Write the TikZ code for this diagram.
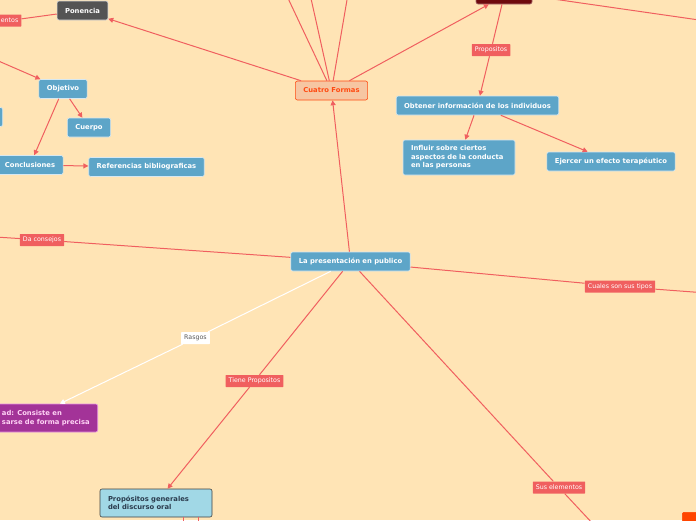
\documentclass[tikz,border=0pt]{standalone}
\usepackage{fontspec}
\setmainfont{DejaVu Sans}
\usetikzlibrary{positioning, arrows.meta}

\definecolor{paper}{HTML}{FFE4B5}
\definecolor{topic}{HTML}{5DA5C8}
\definecolor{link}{HTML}{F05F5F}
\definecolor{formfill}{HTML}{F6C6A2}
\definecolor{formred}{HTML}{FF4B12}
\definecolor{darktopic}{HTML}{6E0A0E}
\definecolor{claridadfill}{HTML}{A33398}
\definecolor{claridadline}{HTML}{E38FE0}
\definecolor{claridadtext}{HTML}{FFD3F5}
\definecolor{propfill}{HTML}{A1D8E6}
\definecolor{proptext}{HTML}{2B3C4E}
\definecolor{hotorange}{HTML}{FF4500}

\begin{document}
\begin{tikzpicture}[
    x=1pt, y=-1pt,
    box/.style={rectangle, rounded corners=2pt, draw=white!75!topic, fill=topic, text=white, line width=0.6pt,
                font=\fontsize{6.8}{8.6}\selectfont\bfseries, inner xsep=8pt, inner ysep=0pt, minimum height=19pt},
    tag/.style={rectangle, rounded corners=0.5pt, fill=link, text=white, font=\fontsize{6.3}{7}\selectfont,
                inner xsep=3pt, inner ysep=0pt, minimum height=12pt},
    arrow/.style={-{Triangle[length=5pt, width=5pt]}, line width=1pt, draw=link},
    line/.style={line width=1pt, draw=link},
]

    \useasboundingbox (0,0) rectangle (696,520);
    \clip (0,0) rectangle (696,520);
    \fill[paper] (0,0) rectangle (696,520);

%% NODES
    % central topic
    \node[box] (presentacion) at (350.5,261.5) {La presentación en publico};

    % Cuatro Formas
    \node[box, fill=formfill, draw=formred, text=formred] (cuatro_formas) at (331.5,90.5) {Cuatro Formas};
    \node[box, fill=darktopic, draw=darktopic!60!white, minimum width=56pt, minimum height=16pt] (top_box) at (504,-4) {};
    \node[box] (obtener) at (477.5,105.5) {Obtener información de los individuos};
    \node[box, align=left, text width=96pt, minimum height=35pt] (influir) at (459,157.5) {Influir sobre ciertos\\aspectos de la conducta\\en las personas};
    \node[box] (ejercer) at (611,161.5) {Ejercer un efecto terapéutico};

    % Ponencia
    \node[box, fill=black!67, draw=black!15] (ponencia) at (82.5,10.5) {Ponencia};
    \node[box] (objetivo) at (63,89) {Objetivo};
    \node[box] (cuerpo) at (89,127.5) {Cuerpo};
    \node[box] (conclusiones) at (30,165) {Conclusiones};
    \node[box] (referencias) at (146.5,167) {Referencias bibliograficas};
    \node[box, anchor=east, minimum width=30pt] (left_box) at (3,117) {};

    % Rasgos, Propositos, elementos
    \node[box, anchor=east, fill=claridadfill, draw=claridadline, text=claridadtext, align=left, minimum height=28pt] (claridad) at (98,418) {ad: Consiste en\\sarse de forma precisa};
    \node[box, fill=propfill, draw=black!75, text=proptext, align=left, text width=96pt, minimum height=28pt] (propositos_generales) at (156,503) {Propósitos generales\\del discurso oral};
    \node[box, anchor=north west, fill=hotorange, draw=hotorange, minimum width=40pt] (bottom_box) at (682,512) {};

    % connector labels
    \node[tag, anchor=east] (lbl_elementos) at (21.5,20.5) {entos};
    \node[tag] (lbl_propositos) at (491,50) {Propositos};
    \node[tag] (lbl_consejos) at (42,240) {Da consejos};
    \node[tag] (lbl_tipos) at (620,286.5) {Cuales son sus tipos};
    \node[tag, fill=white, text=black!65] (lbl_rasgos) at (195.5,338) {Rasgos};
    \node[tag] (lbl_tiene) at (254.5,381) {Tiene Propositos};
    \node[tag] (lbl_sus) at (559,487.5) {Sus elementos};

    % free ends
    \coordinate (off_top_a) at (286,-6);
    \coordinate (off_top_b) at (310,-6);
    \coordinate (off_top_c) at (348,-6);
    \coordinate (off_right_top) at (720,23);
    \coordinate (off_left_top) at (-20,53);
    \coordinate (off_consejos) at (-20,236);
    \coordinate (off_tipos) at (720,294);
    \coordinate (off_sus) at (608,540);
    \coordinate (off_prop_a) at (183,530);
    \coordinate (off_prop_b) at (198,530);

%% CONNECTIONS
    % presentacion -> Cuatro Formas
    \draw[arrow] (presentacion) -- (cuatro_formas);

    % Cuatro Formas -> its branches
    \draw[arrow] (cuatro_formas) -- (ponencia);
    \draw[arrow] (cuatro_formas) -- (top_box);
    \draw[line] (cuatro_formas) -- (off_top_a);
    \draw[line] (cuatro_formas) -- (off_top_b);
    \draw[line] (cuatro_formas) -- (off_top_c);

    % top box -> Obtener informacion
    \draw[line] (top_box.east) -- (off_right_top);
    \draw[arrow] (top_box) -- (lbl_propositos) -- (obtener);
    \draw[arrow] (obtener) -- (influir);
    \draw[arrow] (obtener) -- (ejercer);

    % Ponencia branch
    \draw[line] (ponencia) -- (lbl_elementos);
    \draw[arrow] (off_left_top) -- (objetivo);
    \draw[arrow] (objetivo) -- (cuerpo);
    \draw[arrow] (objetivo) -- (conclusiones);
    \draw[arrow] (conclusiones) -- (referencias);

    % presentacion -> other branches
    \draw[line] (presentacion) -- (lbl_consejos) -- (off_consejos);
    \draw[line] (presentacion) -- (lbl_tipos) -- (off_tipos);
    \draw[arrow, draw=white] (presentacion) -- (lbl_rasgos) -- ([xshift=14pt]claridad.north);
    \draw[arrow] (presentacion) -- (lbl_tiene) -- (propositos_generales);
    \draw[line] (presentacion) -- (lbl_sus) -- (off_sus);

    % Propositos generales -> below
    \draw[line] (propositos_generales.south -| off_prop_a) -- (off_prop_a);
    \draw[line] (propositos_generales.south -| off_prop_b) -- (off_prop_b);

\end{tikzpicture}
\end{document}
